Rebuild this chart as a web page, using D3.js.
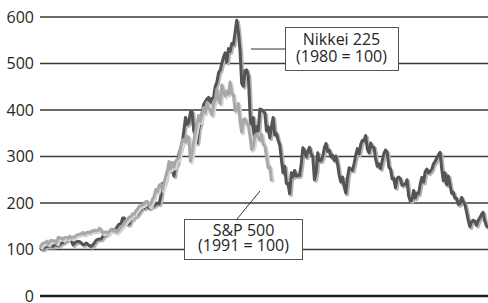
<!DOCTYPE html>
<html>
<head>
<meta charset="utf-8">
<script src="https://cdn.jsdelivr.net/npm/d3@7"></script>
<style>
  html, body { margin: 0; padding: 0; background: #fff; }
  svg { display: block; }
  text { font-family: "Open Sans", "Noto Sans", sans-serif; fill: #262626; }
</style>
</head>
<body>
<svg id="chart" width="488" height="303"></svg>
<script>
// Nikkei 225 monthly index (Jan 1980 = 100), Jan 1980 .. Aug 2002
const nikkei = [
  100,103,101,105,107,107,107,108,107,110,110,108,
  111,114,115,118,120,122,120,119,110,114,117,117,
  117,114,110,111,114,111,108,107,110,115,120,122,
  122,123,128,131,133,134,139,142,143,143,145,151,
  155,155,168,168,157,154,155,165,166,171,172,176,
  181,186,192,189,192,195,189,191,194,194,197,200,
  198,213,242,241,253,268,273,287,271,258,279,285,
  305,317,329,355,384,369,373,396,396,355,346,329,
  360,372,393,412,418,424,427,416,425,427,451,460,
  480,486,500,514,523,503,532,526,543,541,567,593,
  567,527,457,451,485,486,473,395,320,384,343,364,
  355,402,401,398,393,355,364,340,364,384,346,350,
  335,325,294,265,279,242,242,220,265,256,270,258,
  259,259,284,319,313,299,311,320,306,300,250,265,
  308,291,291,300,319,328,311,314,299,303,291,301,
  284,259,245,256,235,221,255,276,273,270,285,303,
  317,306,326,335,334,345,316,308,329,320,320,295,
  279,284,274,291,306,314,309,277,273,252,253,233,
  253,256,252,238,239,241,250,215,204,207,227,211,
  221,220,241,255,245,267,273,265,268,273,284,289,
  297,303,309,273,248,265,239,258,239,221,223,210,
  210,197,198,212,203,197,181,163,149,159,163,161,
  152,162,168,175,180,162,151,147
];
// S&P 500 monthly index (1991 = 100), Jan 1991 .. Sep 2002
const sp500 = [
  104,111,114,114,118,112,118,120,118,119,114,126,
  124,125,122,126,126,124,129,125,127,127,131,132,
  133,134,137,133,136,137,136,140,139,142,140,141,
  146,142,135,137,138,135,139,144,140,143,137,139,
  143,148,152,156,162,165,170,170,177,176,183,187,
  193,194,196,198,203,203,194,198,208,214,229,224,
  238,240,229,243,257,268,289,273,287,277,290,294,
  297,318,334,337,331,344,340,290,308,333,353,372,
  388,375,390,405,394,416,403,400,389,413,421,445,
  423,414,454,440,430,441,434,460,435,433,398,400,
  414,376,352,379,381,371,367,344,315,321,345,348,
  342,335,348,326,323,300,276,278,247
];
const yTicks = [0, 100, 200, 300, 400, 500, 600];
const nikkeiLabel = ["Nikkei 225", "(1980 = 100)"];
const spLabel = ["S&P 500", "(1991 = 100)"];

const svg = d3.select("#chart");
const x = d3.scaleLinear().domain([0, nikkei.length - 1]).range([40, 488]);
const y = d3.scaleLinear().domain([0, 600]).range([296, 17]);

// gridlines
const grid = svg.append("g");
grid.selectAll("line").data(yTicks).join("line")
  .attr("x1", 40).attr("x2", 488)
  .attr("y1", d => y(d)).attr("y2", d => y(d))
  .attr("stroke", d => d === 0 ? "#1e1e1e" : "#3a3a3a")
  .attr("stroke-width", d => d === 0 ? 2.6 : 1.3);

// y axis labels
const yAxis = d3.axisLeft(y).tickValues(yTicks).tickSize(0).tickPadding(0);
const ga = svg.append("g").attr("transform", "translate(34,0)").call(yAxis);
ga.select(".domain").remove();
ga.selectAll("text")
  .attr("font-family", "\"Open Sans\", \"Noto Sans\", sans-serif")
  .attr("font-size", 16).attr("fill", "#262626").attr("dy", "0.34em");

const line = d3.line().x((d, i) => x(i)).y(d => y(d)).curve(d3.curveLinear);

function drawSeries(data, main, shadow) {
  svg.append("path").datum(data).attr("d", line)
    .attr("transform", "translate(1.5,1.6)")
    .attr("fill", "none").attr("stroke", shadow)
    .attr("stroke-width", 3.4).attr("stroke-linejoin", "round");
  svg.append("path").datum(data).attr("d", line)
    .attr("fill", "none").attr("stroke", main)
    .attr("stroke-width", 3).attr("stroke-linejoin", "round");
}
drawSeries(nikkei, "#545454", "#b4b4b4");
drawSeries(sp500, "#a8a8a8", "#d6d6d6");

function labelBox(lines, bx, by, bw, bh, cx, y0, dy) {
  svg.append("rect").attr("x", bx).attr("y", by).attr("width", bw).attr("height", bh)
    .attr("fill", "#fff").attr("stroke", "#555").attr("stroke-width", 1);
  const t = svg.append("text").attr("text-anchor", "middle").attr("font-size", 16);
  t.selectAll("tspan").data(lines).join("tspan")
    .attr("x", cx).attr("y", (d, i) => y0 + i * dy).text(d => d);
}

// Nikkei label
svg.append("line").attr("x1", 251).attr("x2", 285).attr("y1", 49).attr("y2", 49)
  .attr("stroke", "#333").attr("stroke-width", 1);
labelBox(nikkeiLabel, 285.5, 27.5, 113, 43, 341.5, 45, 17);

// S&P label
svg.append("line").attr("x1", 237).attr("y1", 219).attr("x2", 260).attr("y2", 191)
  .attr("stroke", "#333").attr("stroke-width", 1);
labelBox(spLabel, 184.5, 219.5, 118, 40, 243.5, 235.5, 15.5);
</script>
</body>
</html>
